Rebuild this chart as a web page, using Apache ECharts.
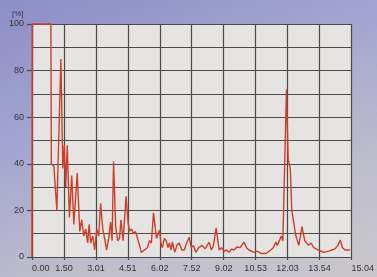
<!DOCTYPE html>
<html>
<head>
<meta charset="utf-8">
<script src="https://cdn.jsdelivr.net/npm/echarts@6/dist/echarts.min.js"></script>
<style>
html,body{margin:0;padding:0;}
body{width:377px;height:277px;overflow:hidden;
	background:linear-gradient(160deg,#8c8ec6 0%,#a3a4d0 35%,#bdbccc 70%,#cbc8cc 100%);}
#main{width:377px;height:277px;}
</style>
</head>
<body>
<div id="main"></div>
<script>
// 时间 (min) 与 百分比
var timeMin = [0.00,0.02,0.89,0.91,1.03,1.17,1.36,1.45,1.52,1.59,1.66,1.76,1.87,1.97,2.13,2.25,2.34,2.44,2.53,2.62,
	2.69,2.76,2.86,2.95,3.05,3.14,3.23,3.33,3.42,3.51,3.61,3.70,3.77,3.84,3.94,4.03,4.12,4.19,4.29,4.43,
	4.52,4.59,4.69,4.78,4.87,4.97,5.06,5.15,5.29,5.43,5.53,5.62,5.72,5.86,6.00,6.07,6.14,6.23,6.32,6.40,6.47,6.55,6.61,6.72,
	6.82,6.93,7.05,7.17,7.28,7.40,7.50,7.60,7.71,7.85,8.01,8.15,8.25,8.34,8.44,8.53,8.67,8.81,8.92,9.04,9.16,9.28,9.40,9.51,9.65,9.80,9.98,10.10,10.21,10.45,10.60,10.78,11.01,
	11.24,11.36,11.48,11.55,11.62,11.74,11.81,11.98,12.06,12.16,12.23,12.32,12.40,12.46,12.56,12.71,12.84,13.02,13.14,13.26,13.49,13.73,13.96,
	14.12,14.28,14.40,14.51,14.62,14.74,14.98];
var pct = [0,100,100,40,39,20,85,38,48,30,48,17,35,14,36,11,16,9,12,6,
	14,6,9,3,12,9,23,12,8,3,8,15,7,41,13,7,8,16,7,26,
	15,11,12,10,11,8,5,2,3,4,7,6,19,8,11.5,6,4,8,7,4,6,3,6.5,2,
	5,6,3,3,6,8.5,4,5,2,4,5,3.5,5,6.4,3,4.5,12.5,3,4,2.5,3,2,3.5,3,4.3,4,6.4,4,3,2,2.5,1.5,1.5,
	3,4,6.4,5,4.5,9,7,72,42,38,20,15,10,8,5,13,7,5,6,4,3,2,2.5,
	3,3.6,5,7.3,4,3,3];
var xMax = 15.04;
var xStep = 1.504;
var yTicks = [0,20,40,60,80,100];

$data = [];
for (var i = 0; i < timeMin.length; i++) {
	$data.push([timeMin[i], pct[i]]);
}

var myChart = echarts.init(document.getElementById('main'));
var gridLine = {color:'#4a4a4a', width:1.2};
var option = {
	animation:false,
	textStyle:{fontFamily:'Liberation Sans, Arial, sans-serif'},
	title:{
		text:'[%]', left:7, top:5,
		textStyle:{fontSize:8, fontWeight:'normal', color:'#3a3a4a'}
	},
	grid:{left:32, right:24, top:24, bottom:20, show:true, backgroundColor:'#e6e4e3', borderWidth:0},
	xAxis:{
		type:'value', min:0, max:xMax, interval:xStep,
		axisLine:{show:true, lineStyle:gridLine},
		axisTick:{show:true, length:3, lineStyle:gridLine},
		splitLine:{show:true, lineStyle:gridLine},
		axisLabel:{
			color:'#333', fontSize:9, margin:7,
			alignMinLabel:'left', alignMaxLabel:'left',
			formatter:function(v){ return v.toFixed(2); }
		}
	},
	yAxis:{
		type:'value', min:yTicks[0], max:yTicks[yTicks.length-1], interval:20,
		axisLine:{show:true, lineStyle:gridLine},
		axisTick:{show:true, length:5, lineStyle:gridLine},
		splitLine:{show:true, lineStyle:gridLine},
		minorTick:{show:false, splitNumber:2},
		minorSplitLine:{show:true, lineStyle:gridLine},
		axisLabel:{color:'#333', fontSize:9, margin:8}
	},
	series:[{
		type:'line',
		data:$data,
		symbol:'none',
		clip:false,
		lineStyle:{color:'#cf3f28', width:1.4},
		z:5
	}]
};
myChart.setOption(option);
</script>
</body>
</html>
